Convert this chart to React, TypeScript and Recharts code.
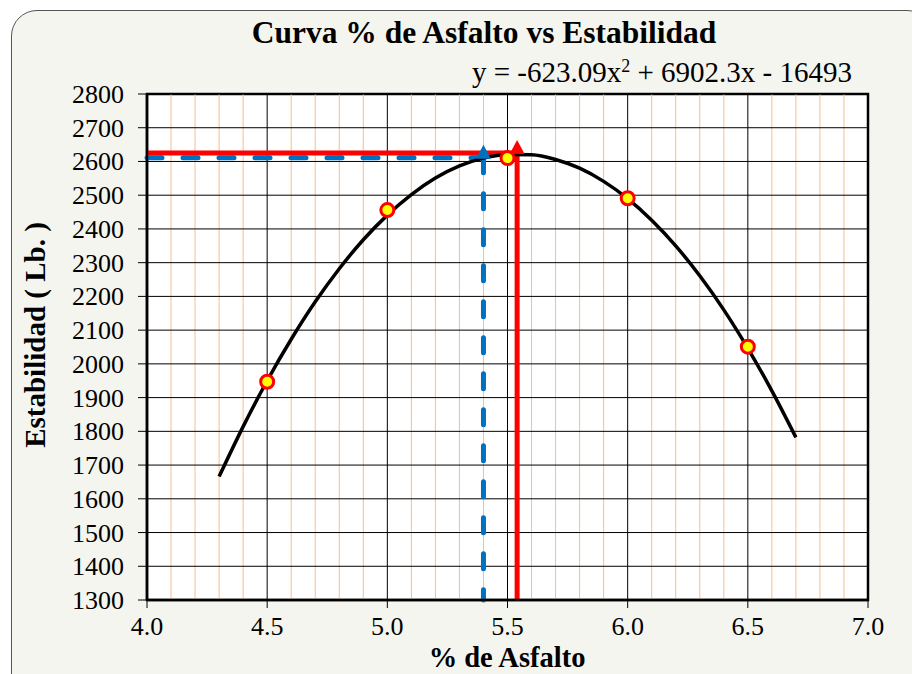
import React from 'react';
import {
  ComposedChart,
  Line,
  Scatter,
  XAxis,
  YAxis,
  CartesianGrid,
  ReferenceLine,
  ReferenceArea,
} from 'recharts';

// ensayos Marshall: % de asfalto vs estabilidad (lb)
const pctAsfalto = [4.5, 5.0, 5.5, 6.0, 6.5];
const estabilidad = [1947, 2456, 2610, 2491, 2051];

// línea de tendencia (polinómica)
const curvaX = [4.3, 4.4, 4.5, 4.6, 4.7, 4.8, 4.9, 5.0, 5.1, 5.2, 5.3, 5.4, 5.5, 5.6, 5.7, 5.8, 5.9, 6.0, 6.1, 6.2, 6.3, 6.4, 6.5, 6.6, 6.7];
const curvaY = [1666, 1814, 1950, 2073, 2184, 2282, 2368, 2441, 2502, 2551, 2587, 2610, 2621, 2620, 2606, 2580, 2541, 2490, 2426, 2350, 2261, 2160, 2046, 1920, 1782];

const xTicks = [4.0, 4.5, 5.0, 5.5, 6.0, 6.5, 7.0];
const xMinor = [4.1, 4.2, 4.3, 4.4, 4.6, 4.7, 4.8, 4.9, 5.1, 5.2, 5.3, 5.4, 5.6, 5.7, 5.8, 5.9, 6.1, 6.2, 6.3, 6.4, 6.6, 6.7, 6.8, 6.9];
const yTicks = [1300, 1400, 1500, 1600, 1700, 1800, 1900, 2000, 2100, 2200, 2300, 2400, 2500, 2600, 2700, 2800];

// lecturas: máximo de la curva (rojo) y valor óptimo (azul)
const maxPct = 5.54;
const maxEst = 2625;
const optPct = 5.4;
const optEst = 2611;

const puntos = pctAsfalto.map((x, i) => ({ x, y: estabilidad[i] }));
const curva = curvaX.map((x, i) => ({ x, y: curvaY[i] }));

const serif = "'Liberation Serif', 'Times New Roman', serif";

const Marker = (props: any) => (
  <circle cx={props.cx} cy={props.cy} r={6.5} fill="#ffff00" stroke="#ff0000" strokeWidth={3} />
);

const arrow = (color: string) => (props: any) => {
  const { cx, cy } = props;
  return <polygon points={`${cx},${cy - 13} ${cx - 7.5},${cy + 1} ${cx + 7.5},${cy + 1}`} fill={color} />;
};

const Tick = (props: any) => {
  const { x, y, payload, textAnchor, vertical } = props;
  const label = vertical ? String(payload.value) : Number(payload.value).toFixed(1);
  return (
    <text
      x={x}
      y={y}
      dy={vertical ? 9 : 15}
      textAnchor={textAnchor}
      fill="#000"
      fontSize={26}
      fontFamily={serif}
    >
      {label}
    </text>
  );
};

export default function App() {
  return (
    <div style={{ position: 'relative', width: 912, height: 674, overflow: 'hidden', fontFamily: serif }}>
      <style>{'body{margin:0}'}</style>
      <div
        style={{
          position: 'absolute',
          left: 11,
          top: 10,
          width: 920,
          height: 700,
          border: '1.5px solid #555',
          borderRadius: 26,
          background: '#f5f5ef',
        }}
      />
      <div style={{ position: 'absolute', left: 0, top: 0 }}>
        <ComposedChart width={912} height={674} margin={{ top: 94, right: 44, bottom: 34, left: 47 }}>
          <CartesianGrid stroke="#000" strokeWidth={1} fill="#fff" fillOpacity={1} horizontal={false} />
          {xMinor.map((v) => (
            <ReferenceLine key={'m' + v} x={v} stroke="#f8bd8c" strokeWidth={1} />
          ))}
          {yTicks.map((v) => (
            <ReferenceLine key={'h' + v} y={v} stroke="#000" strokeWidth={1} />
          ))}
          <XAxis
            dataKey="x"
            type="number"
            domain={[4, 7]}
            ticks={xTicks}
            interval={0}
            height={40}
            tickSize={8}
            tickMargin={12}
            axisLine={{ stroke: '#000', strokeWidth: 2.5 }}
            tickLine={{ stroke: '#000' }}
            tick={<Tick />}
            allowDuplicatedCategory={false}
          />
          <YAxis
            dataKey="y"
            type="number"
            domain={[1300, 2800]}
            ticks={yTicks}
            interval={0}
            width={100}
            tickSize={9}
            tickMargin={14}
            axisLine={{ stroke: '#000', strokeWidth: 2.5 }}
            tickLine={{ stroke: '#000' }}
            tick={<Tick vertical />}
          />
          <ReferenceLine
            segment={[{ x: 4, y: optEst }, { x: optPct, y: optEst }]}
            stroke="#0070c0"
            strokeWidth={5}
            strokeDasharray="15 21"
            strokeLinecap="round"
          />
          <ReferenceLine
            segment={[{ x: optPct, y: optEst }, { x: optPct, y: 1300 }]}
            stroke="#0070c0"
            strokeWidth={5}
            strokeDasharray="15 21"
            strokeLinecap="round"
          />
          <ReferenceLine
            segment={[{ x: 4, y: maxEst }, { x: maxPct, y: maxEst }]}
            stroke="#ff0000"
            strokeWidth={5}
          />
          <ReferenceLine
            segment={[{ x: maxPct, y: maxEst }, { x: maxPct, y: 1300 }]}
            stroke="#ff0000"
            strokeWidth={5}
          />
          <ReferenceArea x1={4} x2={7} y1={1300} y2={2800} fill="none" stroke="#000" strokeWidth={2.5} />
          <Line
            data={curva}
            dataKey="y"
            type="monotone"
            dot={false}
            stroke="#000"
            strokeWidth={3.5}
            isAnimationActive={false}
          />
          <Scatter data={puntos} dataKey="y" shape={Marker} isAnimationActive={false} />
          <Scatter data={[{ x: optPct, y: optEst }]} dataKey="y" shape={arrow('#0070c0')} isAnimationActive={false} />
          <Scatter data={[{ x: maxPct, y: maxEst }]} dataKey="y" shape={arrow('#ff0000')} isAnimationActive={false} />
        </ComposedChart>
      </div>
      <div
        style={{
          position: 'absolute',
          left: 484,
          top: 17,
          transform: 'translateX(-50%)',
          fontSize: 31.5,
          lineHeight: 1,
          fontWeight: 'bold',
          whiteSpace: 'nowrap',
          color: '#000',
        }}
      >
        Curva % de Asfalto vs Estabilidad
      </div>
      <div
        style={{
          position: 'absolute',
          right: 60,
          top: 57.5,
          fontSize: 29,
          lineHeight: 1,
          whiteSpace: 'nowrap',
          color: '#000',
        }}
      >
        y = -623.09x<sup style={{ fontSize: '0.62em', lineHeight: 0, verticalAlign: '0.55em' }}>2</sup> + 6902.3x - 16493
      </div>
      <div
        style={{
          position: 'absolute',
          left: 507,
          top: 643.5,
          transform: 'translateX(-50%)',
          fontSize: 28.5,
          lineHeight: 1,
          fontWeight: 'bold',
          whiteSpace: 'nowrap',
          color: '#000',
        }}
      >
        % de Asfalto
      </div>
      <div
        style={{
          position: 'absolute',
          left: 35,
          top: 335,
          transform: 'translate(-50%, -50%) rotate(-90deg)',
          fontSize: 29,
          lineHeight: 1,
          fontWeight: 'bold',
          whiteSpace: 'nowrap',
          color: '#000',
        }}
      >
        Estabilidad ( Lb. )
      </div>
    </div>
  );
}
